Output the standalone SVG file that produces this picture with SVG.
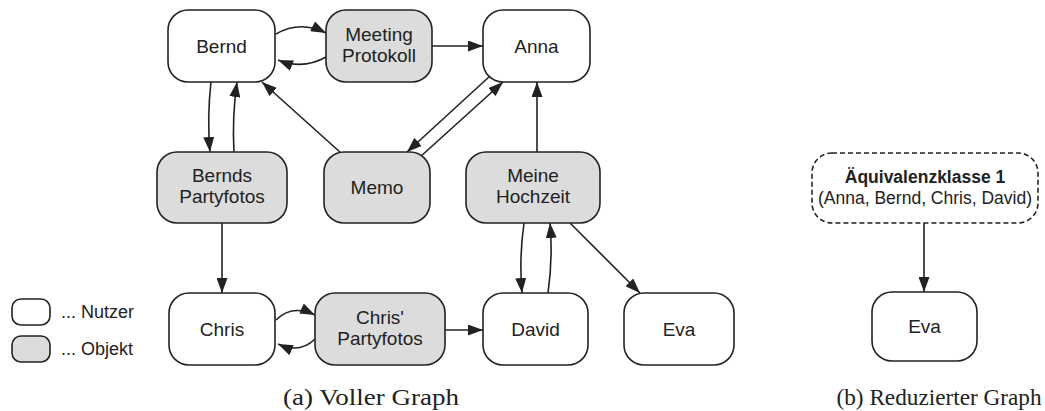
<svg xmlns="http://www.w3.org/2000/svg" width="1045" height="411" viewBox="0 0 1045 411">
<style>
.u{fill:#fff;stroke:#222;stroke-width:1.6}
.o{fill:#dcdcdc;stroke:#222;stroke-width:1.6}
.d{fill:#fff;stroke:#222;stroke-width:1.6;stroke-dasharray:5 3}
.t{font-family:"Liberation Sans",Arial,sans-serif;font-size:19px;fill:#222;text-anchor:middle}
.s{font-size:17.5px}
.l{font-size:18px;text-anchor:start}
.b{font-weight:bold}
.c{font-family:"Liberation Serif","Times New Roman",serif;font-size:23px;fill:#222;text-anchor:middle}
.e{fill:none;stroke:#222;stroke-width:1.6;marker-end:url(#a)}
</style>
<defs>
<marker id="a" viewBox="0 0 15 11" refX="15" refY="5.5" markerWidth="15" markerHeight="11" markerUnits="userSpaceOnUse" orient="auto">
<path d="M0,0 L15,5.5 L0,11 z" fill="#222"/>
</marker>
</defs>
<g id="connectors">
<path class="e" d="M276,34 Q300,20 326,33"/>
<path class="e" d="M326,57 Q303,70 278,60"/>
<path class="e" d="M432,46 L483,46"/>
<path class="e" d="M490,76 L407,152"/>
<path class="e" d="M420,157 L503,82"/>
<path class="e" d="M341,153 L262,82"/>
<path class="e" d="M211,82 Q207,117 210,152"/>
<path class="e" d="M234,152 Q232,117 237,82"/>
<path class="e" d="M222,223 L222,293"/>
<path class="e" d="M537,152 L537,82"/>
<path class="e" d="M524,223 Q519,258 522,293"/>
<path class="e" d="M548,293 Q553,258 550,223"/>
<path class="e" d="M570,223 L640,293"/>
<path class="e" d="M276,320 Q292,304 315,315"/>
<path class="e" d="M315,339 Q300,354 278,344"/>
<path class="e" d="M445,330 L483,330"/>
<path class="e" d="M924,223 L924,292"/>
</g>
<g id="bernd"><rect class="u" x="168" y="10" width="107" height="72" rx="20"/><text class="t" x="221.5" y="52.5">Bernd</text></g>
<g id="meeting"><rect class="o" x="326" y="10" width="106" height="72" rx="20"/><text class="t" x="379" y="41">Meeting</text><text class="t" x="379" y="62">Protokoll</text></g>
<g id="anna"><rect class="u" x="483" y="10" width="107" height="72" rx="20"/><text class="t" x="536.5" y="52.5">Anna</text></g>
<g id="berndsfotos"><rect class="o" x="157" y="152" width="130" height="71" rx="20"/><text class="t" x="222" y="182">Bernds</text><text class="t" x="222" y="203">Partyfotos</text></g>
<g id="memo"><rect class="o" x="324" y="152" width="106" height="71" rx="20"/><text class="t" x="377" y="194">Memo</text></g>
<g id="hochzeit"><rect class="o" x="466" y="152" width="134" height="71" rx="20"/><text class="t" x="533" y="182">Meine</text><text class="t" x="533" y="203">Hochzeit</text></g>
<g id="chris"><rect class="u" x="169" y="293" width="106" height="72" rx="20"/><text class="t" x="222" y="335.5">Chris</text></g>
<g id="chrisfotos"><rect class="o" x="315" y="293" width="130" height="72" rx="20"/><text class="t" x="380" y="323.5">Chris'</text><text class="t" x="380" y="344.5">Partyfotos</text></g>
<g id="david"><rect class="u" x="483" y="293" width="105" height="72" rx="20"/><text class="t" x="535.5" y="335.5">David</text></g>
<g id="eva"><rect class="u" x="624" y="293" width="110" height="72" rx="20"/><text class="t" x="679" y="335.5">Eva</text></g>
<g id="legend">
<rect class="u" x="12" y="299" width="38" height="26" rx="9"/><text class="t l" x="61" y="318">... Nutzer</text>
<rect class="o" x="12" y="336" width="38" height="26" rx="9"/><text class="t l" x="61" y="355">... Objekt</text>
</g>
<g id="aeq"><rect class="d" x="812" y="153" width="226" height="70" rx="20"/><text class="t s b" x="925" y="182.5">Äquivalenzklasse 1</text><text class="t s" x="925" y="203.5" textLength="214" lengthAdjust="spacingAndGlyphs">(Anna, Bernd, Chris, David)</text></g>
<g id="eva2"><rect class="u" x="872" y="292" width="105" height="69" rx="20"/><text class="t" x="924.5" y="333">Eva</text></g>
<text class="c" x="371" y="405" textLength="176" lengthAdjust="spacingAndGlyphs">(a)  Voller Graph</text>
<text class="c" x="939" y="405" textLength="205" lengthAdjust="spacingAndGlyphs">(b)  Reduzierter Graph</text>
</svg>
